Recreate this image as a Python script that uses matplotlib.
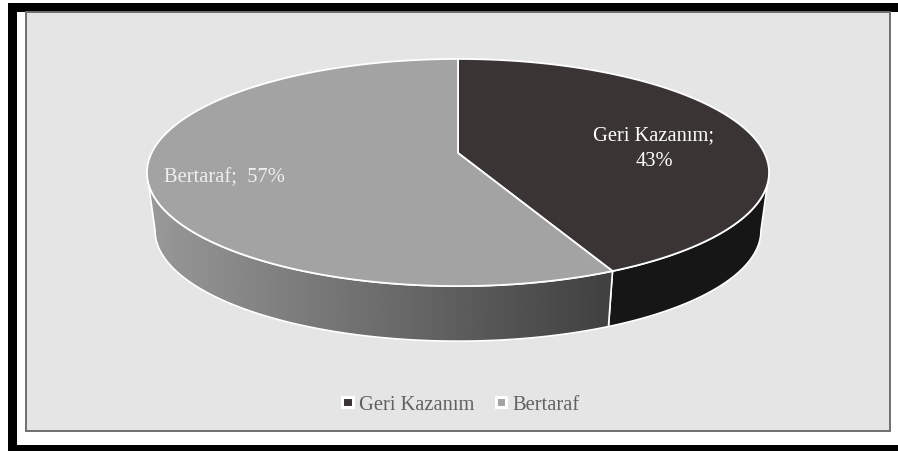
import numpy as np
import matplotlib
matplotlib.use("Agg")
import matplotlib.pyplot as plt
from matplotlib.patches import Patch, Polygon, Rectangle

categories = ["Geri Kazanım", "Bertaraf"]
shares = [43, 57]
data_labels = ["Geri Kazanım;\n43%", "Bertaraf;  57%"]
top_colors = ["#3a3534", "#a3a3a3"]
legend_colors = ["#3a3534", "#a3a3a3"]

plt.rcParams['font.family'] = ['Liberation Serif', 'DejaVu Serif']

# perspective of the pie disc, in picture pixels
cx, cy = 458, 154
rx, ry, k = 306.4, 110.2, 0.172
low_scale, low_cy = 0.974, 212.5


def rim(theta, lower=False):
    # theta is clockwise from 12 o'clock
    u, v = np.sin(theta), np.cos(theta)
    x = rx * u / (1 + k * v)
    y = -ry * v / (1 + k * v)
    if lower:
        return cx + low_scale * x, low_cy + low_scale * y
    return cx + x, cy + y


fig = plt.figure(figsize=(8.98, 4.52), dpi=100)
ax = fig.add_axes([0, 0, 1, 1])
ax.set_xlim(0, 898)
ax.set_ylim(452, 0)
ax.axis("off")

# black frame of the scan and the grey chart panel
ax.add_patch(Rectangle((8, 4), 890, 9, fc="black", ec="none"))
ax.add_patch(Rectangle((8, 4), 9, 448, fc="black", ec="none"))
ax.add_patch(Rectangle((8, 446), 890, 6, fc="black", ec="none"))
ax.add_patch(Rectangle((26, 13), 864, 418.5, fc="#e5e5e5", ec="#6e6e6e", lw=1.4))

ends = np.cumsum(shares) / np.sum(shares) * 2 * np.pi
split = ends[0]
right_start = np.pi / 2 + np.arcsin(k)
left_end = 3 * np.pi / 2 - np.arcsin(k)

# side wall, right part is flat dark
t = np.linspace(right_start, split, 120)
xs, ys = rim(t)
xl, yl = rim(t, True)
pts = np.r_[np.c_[xs, ys], np.c_[xl, yl][::-1]]
ax.add_patch(Polygon(pts, closed=True, fc="#161616", ec="white", lw=1.2, zorder=2))

# side wall, left part has a horizontal gradient
t = np.linspace(split, left_end, 200)
xs, ys = rim(t)
xl, yl = rim(t, True)
pts = np.r_[np.c_[xs, ys], np.c_[xl, yl][::-1]]
wall = Polygon(pts, closed=True, fc="none", ec="white", lw=1.2, zorder=4)
ax.add_patch(wall)
grad = np.linspace(0.60, 0.25, 256).reshape(1, -1)
im = ax.imshow(grad, cmap="gray", vmin=0, vmax=1, extent=(147, 614, 345, 170),
               aspect="auto", zorder=3)
im.set_clip_path(wall)
ax.set_xlim(0, 898)
ax.set_ylim(452, 0)

# top of the pie
starts = np.r_[0, ends[:-1]]
for a, b, col in zip(starts, ends, top_colors):
    t = np.linspace(a, b, 300)
    xs, ys = rim(t)
    pts = np.r_[[[cx, cy]], np.c_[xs, ys]]
    ax.add_patch(Polygon(pts, closed=True, fc=col, ec="white", lw=1.3, zorder=5))

ax.text(654, 149, data_labels[0], color="white", fontsize=14.8, ha="center",
        va="center", linespacing=1.5, zorder=6)
ax.text(224, 178, data_labels[1], color="#f0f0f0", fontsize=14.8, ha="center",
        va="center", zorder=6)

handles = [Patch(fc=c, ec="white", lw=2.2) for c in legend_colors]
ax.legend(handles, categories, loc="center", bbox_to_anchor=(461 / 898, 1 - 406 / 452),
          ncol=2, frameon=False, fontsize=14.8, labelcolor="#606060", handlelength=0.5,
          handleheight=0.4, handletextpad=0.3, columnspacing=1.05)

fig.savefig("out.png", dpi=100)
